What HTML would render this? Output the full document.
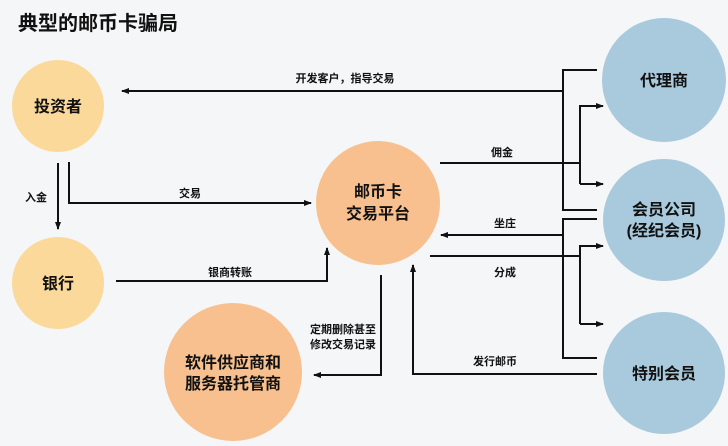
<!DOCTYPE html>
<html><head><meta charset="utf-8"><style>
html,body{margin:0;padding:0;background:#f4f6f8;}
svg text{font-family:"Liberation Sans","Noto Sans CJK SC",sans-serif;fill:#111;}
</style></head><body>
<svg width="728" height="441" viewBox="0 0 728 441" xmlns="http://www.w3.org/2000/svg">
<defs><marker id="a" markerWidth="8" markerHeight="8" refX="7" refY="4" orient="auto" markerUnits="userSpaceOnUse"><path d="M0,1 L8,4 L0,7 Z" fill="#111"/></marker></defs>
<rect width="728" height="441" fill="#f4f6f8"/>
<text x="18" y="30" font-size="20" font-weight="bold">典型的邮币卡骗局</text>
<circle cx="58" cy="106" r="46" fill="#fbd99a"/>
<circle cx="58" cy="283" r="46" fill="#fbd99a"/>
<circle cx="378" cy="203" r="62" fill="#f8c08e"/>
<circle cx="233" cy="372" r="69" fill="#f8c08e"/>
<circle cx="664" cy="80" r="62" fill="#a9cadd"/>
<circle cx="664" cy="220" r="61" fill="#a9cadd"/>
<circle cx="664" cy="373" r="61" fill="#a9cadd"/>
<g font-size="16" font-weight="bold" text-anchor="middle">
<text x="58" y="112">投资者</text>
<text x="58" y="289">银行</text>
<text x="378" y="197">邮币卡</text>
<text x="378" y="219">交易平台</text>
<text x="233" y="368">软件供应商和</text>
<text x="233" y="389">服务器托管商</text>
<text x="664" y="86">代理商</text>
<text x="664" y="215">会员公司</text>
<text x="664" y="236">(经纪会员)</text>
<text x="664" y="379">特别会员</text>
</g>
<g stroke="#111" stroke-width="2" fill="none">
<path d="M563,91 H122" marker-end="url(#a)"/>
<path d="M597,70 H563 V210 H597"/>
<path d="M440,163 H580"/>
<path d="M580,184 V106 H603" marker-end="url(#a)"/>
<path d="M580,184 H603" marker-end="url(#a)"/>
<path d="M597,219 H563 V358 H597"/>
<path d="M563,235 H441" marker-end="url(#a)"/>
<path d="M430,256 H580"/>
<path d="M580,324 V246 H603" marker-end="url(#a)"/>
<path d="M580,324 H603" marker-end="url(#a)"/>
<path d="M597,374 H413 V265" marker-end="url(#a)"/>
<path d="M58,163 V229" marker-end="url(#a)"/>
<path d="M69,162 V203 H311" marker-end="url(#a)"/>
<path d="M116,281 H327 V248" marker-end="url(#a)"/>
<path d="M381,275 V375 H314" marker-end="url(#a)"/>
</g>
<g font-size="11" font-weight="bold" text-anchor="middle">
<text x="345" y="82">开发客户，指导交易</text>
<text x="502" y="156">佣金</text>
<text x="505" y="227">坐庄</text>
<text x="505" y="276">分成</text>
<text x="495" y="365">发行邮币</text>
<text x="36" y="201">入金</text>
<text x="190" y="197">交易</text>
<text x="230" y="276">银商转账</text>
<text x="343" y="333">定期删除甚至</text>
<text x="343" y="348">修改交易记录</text>
</g>
</svg>
</body></html>
